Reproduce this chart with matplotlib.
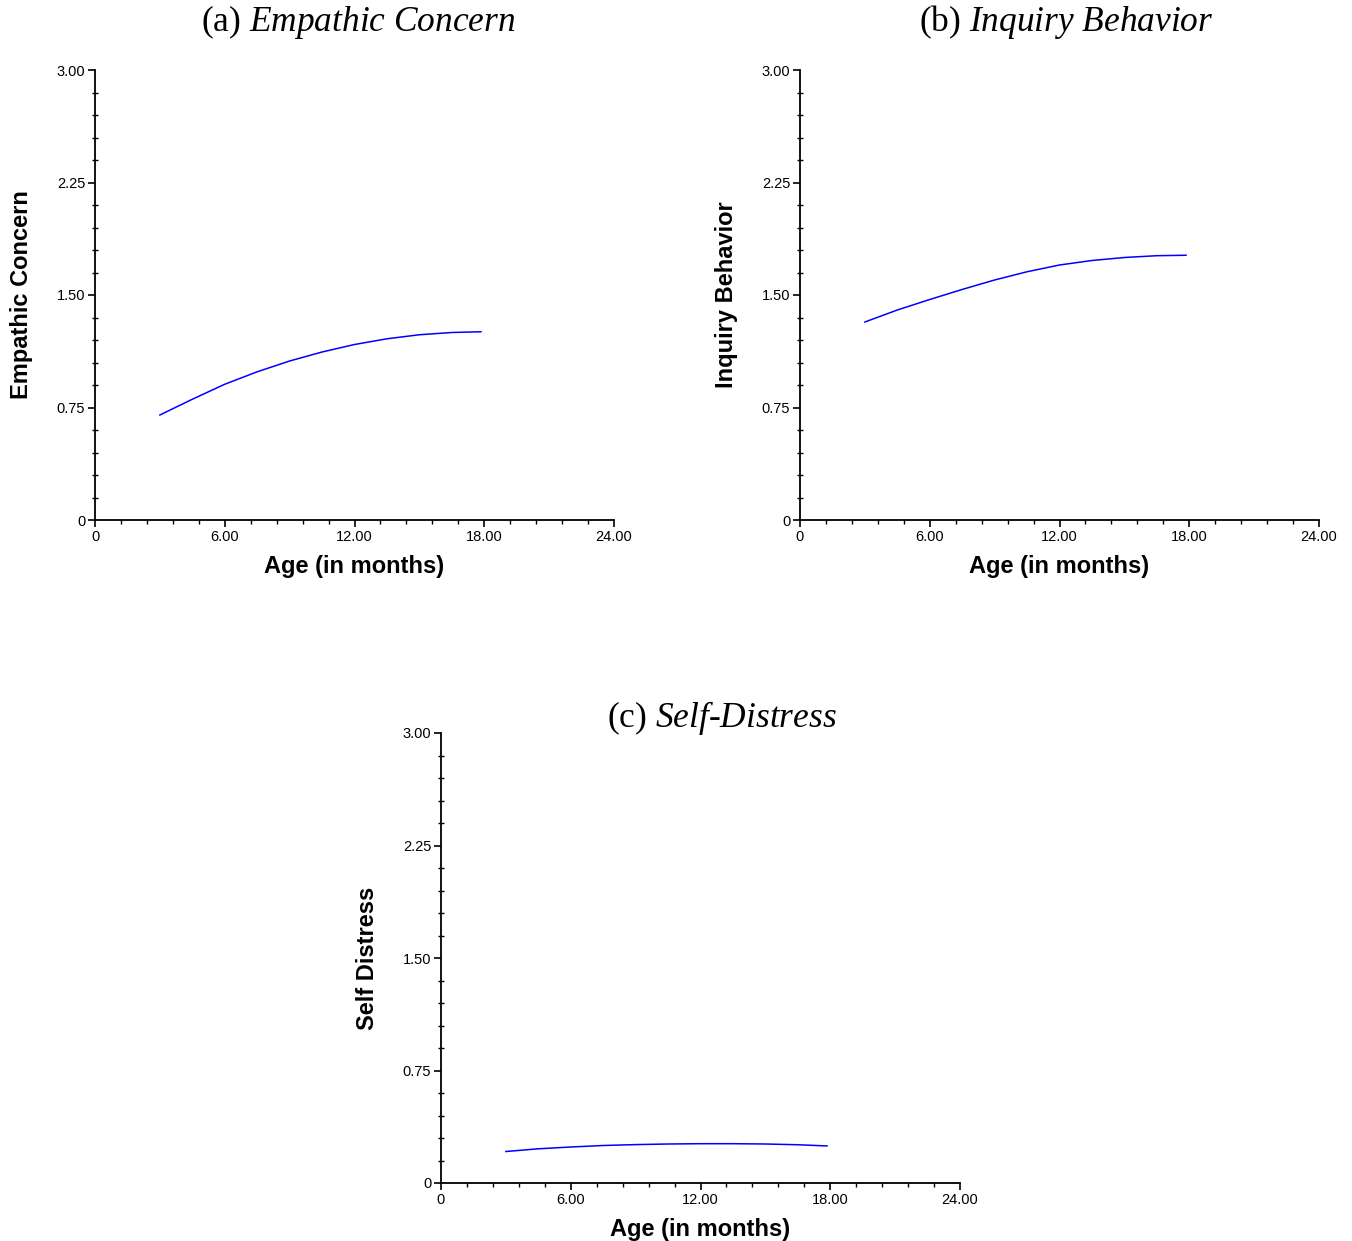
import numpy as np
import matplotlib
matplotlib.use("Agg")
import matplotlib.pyplot as plt
from matplotlib.ticker import MultipleLocator, FuncFormatter

plt.rcParams['mathtext.fontset'] = 'custom'
plt.rcParams['mathtext.rm'] = 'Liberation Serif'
plt.rcParams['mathtext.it'] = 'Liberation Serif:italic'

# age in months
age = [3.0, 4.5, 6.0, 7.5, 9.0, 10.5, 12.0, 13.5, 15.0, 16.5, 17.85]
empathic = [0.70, 0.805, 0.905, 0.988, 1.06, 1.12, 1.17, 1.208, 1.235, 1.25, 1.255]
inquiry = [1.32, 1.40, 1.47, 1.537, 1.60, 1.655, 1.70, 1.73, 1.75, 1.762, 1.765]
distress = [0.21, 0.228, 0.24, 0.25, 0.256, 0.26, 0.262, 0.262, 0.26, 0.255, 0.247]

titles = ['(a) $\\mathit{Empathic\\ Concern}$',
          '(b) $\\mathit{Inquiry\\ Behavior}$',
          '(c) $\\mathit{Self}$-$\\mathit{Distress}$']
ylabels = ['Empathic Concern', 'Inquiry Behavior', 'Self Distress']
series = [empathic, inquiry, distress]

W, H = 1352, 1241
fig = plt.figure(figsize=(W / 100, H / 100), dpi=100)

# axes boxes in pixels: left, top, right, bottom
boxes = [(95, 70, 614, 520), (800, 70, 1319, 520), (441, 733, 960, 1183)]
title_pos = [(358, 22), (1066, 22), (722, 718)]


def fmt(v, pos):
    if abs(v) < 1e-9:
        return '0'
    return '%.2f' % v


for i in range(3):
    l, t, r, b = boxes[i]
    ax = fig.add_axes([l / W, 1 - b / H, (r - l) / W, (b - t) / H])
    ax.plot(age, series[i], color='blue', lw=1.1)
    ax.set_xlim(0, 24)
    ax.set_ylim(0, 3)
    ax.spines['top'].set_visible(False)
    ax.spines['right'].set_visible(False)
    ax.spines['left'].set_linewidth(1.3)
    ax.spines['bottom'].set_linewidth(1.3)
    ax.xaxis.set_major_locator(MultipleLocator(6))
    ax.xaxis.set_minor_locator(MultipleLocator(1.2))
    ax.yaxis.set_major_locator(MultipleLocator(0.75))
    ax.yaxis.set_minor_locator(MultipleLocator(0.15))
    ax.xaxis.set_major_formatter(FuncFormatter(fmt))
    ax.yaxis.set_major_formatter(FuncFormatter(fmt))
    ax.tick_params(which='major', direction='out', length=5, width=1.2,
                   labelsize=10.5, pad=2)
    ax.tick_params(axis='x', which='minor', direction='out', length=3, width=1.0)
    ax.tick_params(axis='y', which='minor', direction='inout', length=4, width=1.0)
    for lab in ax.get_xticklabels() + ax.get_yticklabels():
        lab.set_family('Liberation Sans')
    ax.set_xlabel('Age (in months)', family='Liberation Sans', fontweight='bold',
                  fontsize=17, labelpad=8)
    ax.set_ylabel(ylabels[i], family='Liberation Sans', fontweight='bold',
                  fontsize=17, labelpad=17)
    tx, ty = title_pos[i]
    fig.text(tx / W, 1 - ty / H, titles[i], family='Liberation Serif',
             fontsize=25.5, ha='center', va='center')

fig.savefig('out.png', dpi=100)
